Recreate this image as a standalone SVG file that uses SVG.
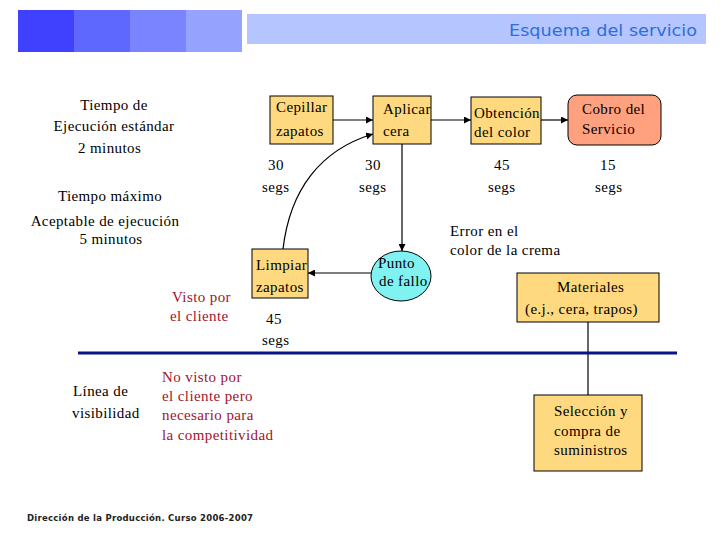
<svg xmlns="http://www.w3.org/2000/svg" width="720" height="540" viewBox="0 0 720 540">
<defs>
<style>
.t{font-size:15px;fill:#000;letter-spacing:0.4px}
.r{font-size:15px;fill:#A0142A;letter-spacing:0.4px}
.box{fill:#FFD97F;stroke:#000;stroke-width:1}
.ln{stroke:#000;stroke-width:1.2;fill:none}
</style>
<marker id="ah" viewBox="0 0 10 10" refX="10" refY="5" markerWidth="7" markerHeight="7" orient="auto" markerUnits="userSpaceOnUse">
<path d="M0,0 L10,5 L0,10 z" fill="#000"/>
</marker>
</defs>
<rect width="720" height="540" fill="#fff"/>
<g id="header">
<rect x="18" y="10" width="56" height="42" fill="#4040FF"/>
<rect x="74" y="10" width="56" height="42" fill="#5E68FF"/>
<rect x="130" y="10" width="56" height="42" fill="#7A84FF"/>
<rect x="186" y="10" width="56" height="42" fill="#95A3FF"/>
<rect x="247" y="14" width="459" height="30" fill="#B4C5FF"/>
<text x="697" y="36" text-anchor="end" font-family="DejaVu Sans, Verdana, sans-serif" font-size="15.5" fill="#2F6FD6" textLength="188" lengthAdjust="spacingAndGlyphs">Esquema del servicio</text>
</g>
<g id="connectors">
<line class="ln" x1="333" y1="120" x2="373" y2="120" marker-end="url(#ah)"/>
<line class="ln" x1="431" y1="120" x2="471" y2="120" marker-end="url(#ah)"/>
<line class="ln" x1="541" y1="120" x2="568" y2="120" marker-end="url(#ah)"/>
<line class="ln" x1="402" y1="144" x2="402" y2="251" marker-end="url(#ah)"/>
<line class="ln" x1="371" y1="273" x2="308" y2="273" marker-end="url(#ah)"/>
<path class="ln" d="M283,249 C290,190 320,150 373,134" marker-end="url(#ah)"/>
<line class="ln" x1="588" y1="322" x2="588" y2="395"/>
<line x1="78" y1="353" x2="677" y2="353" stroke="#0A1488" stroke-width="3"/>
</g>
<g font-family="Liberation Serif, DejaVu Serif, Times New Roman, serif">
<g id="cepillar">
<rect class="box" x="270" y="96" width="63" height="48"/>
<text class="t" x="276" y="112">Cepillar</text>
<text class="t" x="276" y="136">zapatos</text>
</g>
<g id="aplicar">
<rect class="box" x="373" y="96" width="58" height="48"/>
<text class="t" x="383" y="114">Aplicar</text>
<text class="t" x="383" y="136">cera</text>
</g>
<g id="obtencion">
<rect class="box" x="471" y="97" width="70" height="47"/>
<text class="t" x="474" y="118" textLength="66">Obtención</text>
<text class="t" x="474" y="137">del color</text>
</g>
<g id="cobro">
<rect x="568" y="95" width="93" height="50" rx="9" fill="#FFA07F" stroke="#000"/>
<text class="t" x="582" y="114">Cobro del</text>
<text class="t" x="582" y="134">Servicio</text>
</g>
<g id="punto">
<ellipse cx="401" cy="276" rx="30" ry="25" fill="#80F2F2" stroke="#000"/>
<text class="t" x="378" y="268">Punto</text>
<text class="t" x="379" y="286">de fallo</text>
</g>
<g id="limpiar">
<rect class="box" x="252" y="249" width="56" height="49"/>
<text class="t" x="256" y="270">Limpiar</text>
<text class="t" x="256" y="292">zapatos</text>
</g>
<g id="materiales">
<rect class="box" x="517" y="273" width="142" height="49"/>
<text class="t" x="557" y="292">Materiales</text>
<text class="t" x="525" y="314">(e.j., cera, trapos)</text>
</g>
<g id="seleccion">
<rect class="box" x="534" y="395" width="108" height="76"/>
<text class="t" x="554" y="416">Selección y</text>
<text class="t" x="554" y="436">compra de</text>
<text class="t" x="554" y="455">suministros</text>
</g>
<g id="labels">
<text class="t" x="268" y="170">30</text>
<text class="t" x="262" y="192">segs</text>
<text class="t" x="365" y="170">30</text>
<text class="t" x="359" y="192">segs</text>
<text class="t" x="494" y="170">45</text>
<text class="t" x="488" y="192">segs</text>
<text class="t" x="600" y="170">15</text>
<text class="t" x="595" y="192">segs</text>
<text class="t" x="266" y="324">45</text>
<text class="t" x="262" y="345">segs</text>
<text class="t" x="114" y="110" text-anchor="middle">Tiempo de</text>
<text class="t" x="114" y="131" text-anchor="middle">Ejecución estándar</text>
<text class="t" x="78" y="153">2 minutos</text>
<text class="t" x="110" y="201" text-anchor="middle">Tiempo máximo</text>
<text class="t" x="105" y="226" text-anchor="middle">Aceptable de ejecución</text>
<text class="t" x="111" y="244" text-anchor="middle">5 minutos</text>
<text class="t" x="450" y="236">Error en el</text>
<text class="t" x="450" y="255">color de la crema</text>
<text class="r" x="172" y="302">Visto por</text>
<text class="r" x="170" y="321">el cliente</text>
<text class="t" x="73" y="396">Línea de</text>
<text class="t" x="72" y="418">visibilidad</text>
<text class="r" x="162" y="382">No visto por</text>
<text class="r" x="162" y="401">el cliente pero</text>
<text class="r" x="162" y="420">necesario para</text>
<text class="r" x="162" y="440">la competitividad</text>
</g>
</g>
<text x="27" y="521" font-family="DejaVu Sans, Verdana, sans-serif" font-size="8.5" font-weight="bold" fill="#222" textLength="226">Dirección de la Producción. Curso 2006-2007</text>
</svg>
